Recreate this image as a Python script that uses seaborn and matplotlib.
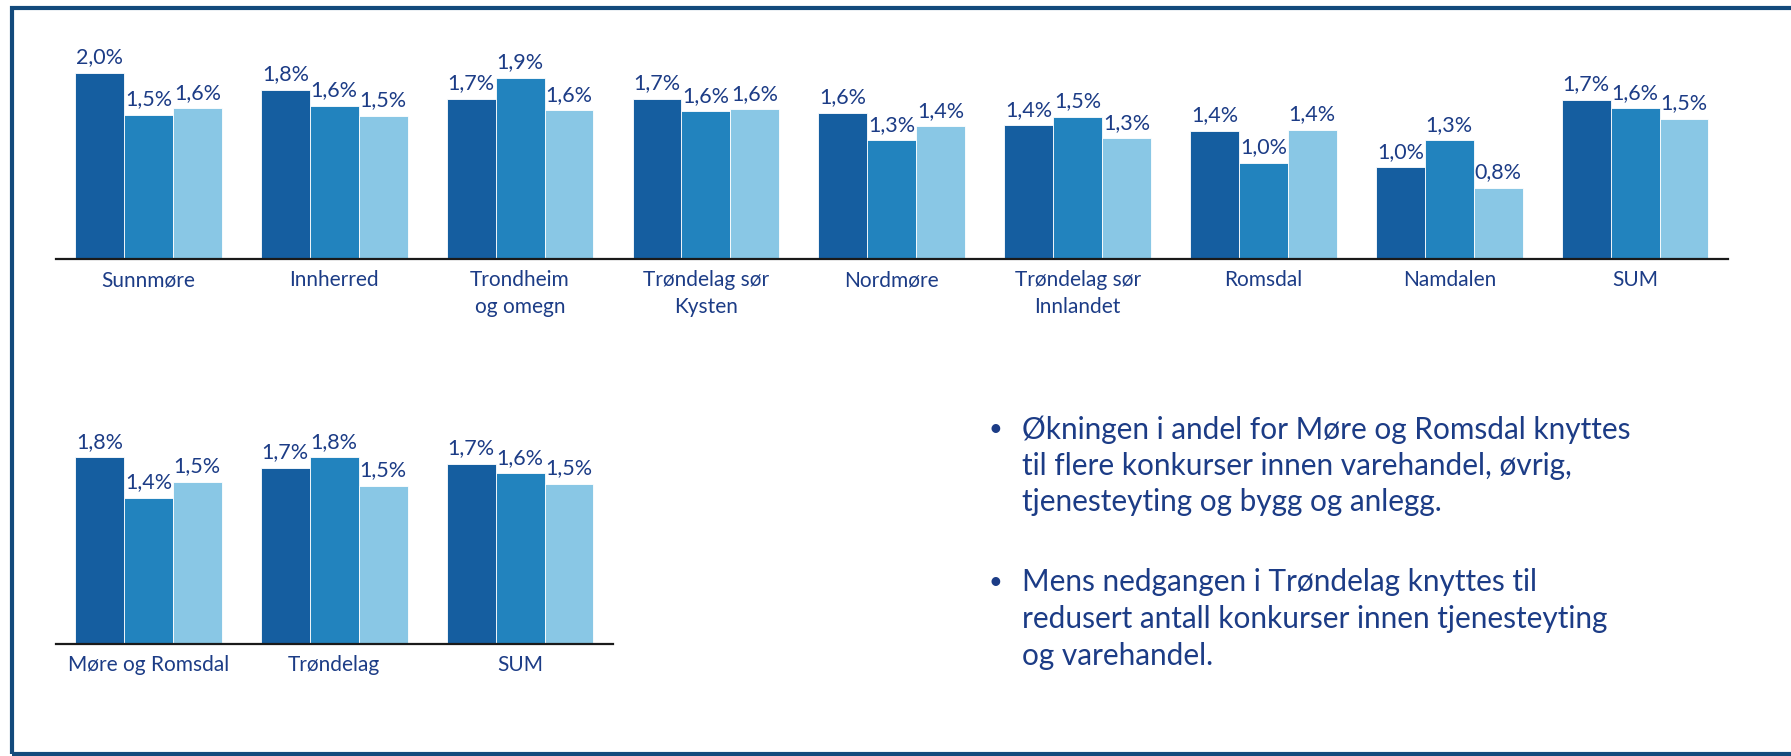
import pandas as pd
import seaborn as sns
import matplotlib.pyplot as plt
from matplotlib.patches import Rectangle

# andel konkurser per region, tre perioder (lest av figuren)
regions = ["Sunnmøre", "Innherred", "Trondheim\nog omegn", "Trøndelag sør\nKysten", "Nordmøre",
           "Trøndelag sør\nInnlandet", "Romsdal", "Namdalen", "SUM"]
reg_p1 = [1.99, 1.81, 1.71, 1.71, 1.56, 1.43, 1.37, 0.98, 1.70]
reg_p2 = [1.54, 1.64, 1.94, 1.58, 1.27, 1.52, 1.03, 1.27, 1.61]
reg_p3 = [1.61, 1.53, 1.59, 1.60, 1.42, 1.29, 1.38, 0.76, 1.50]

counties = ["Møre og Romsdal", "Trøndelag", "SUM"]
fyl_p1 = [1.76, 1.66, 1.70]
fyl_p2 = [1.38, 1.76, 1.61]
fyl_p3 = [1.53, 1.49, 1.51]

periods = ["p1", "p2", "p3"]
colors = ["#155ea0", "#2283be", "#89c7e5"]
text_col = "#1c3c86"

bullet1 = ["Økningen i andel for Møre og Romsdal knyttes",
           "til flere konkurser innen varehandel, øvrig,",
           "tjenesteyting og bygg og anlegg."]
bullet2 = ["Mens nedgangen i Trøndelag knyttes til",
           "redusert antall konkurser innen tjenesteyting",
           "og varehandel."]

W, H = 1791, 756


def long_df(cats, s1, s2, s3):
    rows = []
    for per, vals in zip(periods, [s1, s2, s3]):
        for c, v in zip(cats, vals):
            rows.append({"omr": c, "andel": v, "periode": per})
    return pd.DataFrame(rows)


def draw(ax, df, ymax):
    sns.barplot(data=df, x="omr", y="andel", hue="periode", hue_order=periods,
                palette=colors, saturation=1, width=0.79, gap=0, legend=False, ax=ax,
                edgecolor="white", linewidth=0.6, errorbar=None)
    for cont in ax.containers:
        labs = [f"{b.get_height():.1f}%".replace(".", ",") for b in cont]
        ax.bar_label(cont, labels=labs, padding=4, fontsize=15.5, color=text_col)
    ax.set_ylim(0, ymax)
    ax.set_xlabel("")
    ax.set_ylabel("")
    ax.set_yticks([])
    for s in ["top", "right", "left"]:
        ax.spines[s].set_visible(False)
    ax.spines["bottom"].set_color("#1a1a1a")
    ax.spines["bottom"].set_linewidth(1.6)
    ax.tick_params(axis="x", length=0, pad=8, labelsize=15, labelcolor=text_col)
    ax.set_facecolor("none")


sns.set_style("white")
plt.rcParams["font.family"] = ["Lato", "DejaVu Sans"]

fig = plt.figure(figsize=(W / 100, H / 100), dpi=100)

# øverste diagram: regioner
ax1 = fig.add_axes([55.5 / W, 1 - 259 / H, 1672.5 / W, 229 / H])
draw(ax1, long_df(regions, reg_p1, reg_p2, reg_p3), 229 / 93.5)
for t in ax1.get_xticklabels():
    t.set_linespacing(1.4)

# nederste diagram: fylker
ax2 = fig.add_axes([55.5 / W, 1 - 644 / H, 557.5 / W, 244 / H])
draw(ax2, long_df(counties, fyl_p1, fyl_p2, fyl_p3), 244 / 106)

# tekst til høyre
step = 36.5
for y0, lines in [(429.5, bullet1), (582.5, bullet2)]:
    fig.text(988 / W, 1 - y0 / H, "•", fontsize=17, color=text_col, va="center", ha="left")
    for i, line in enumerate(lines):
        fig.text(1022 / W, 1 - (y0 + i * step) / H, line, fontsize=21.4, color=text_col,
                 va="center", ha="left")

# ramme
fig.patches.append(Rectangle((11.5 / W, 1 - 754 / H), (1800 - 11.5) / W, (754 - 8) / H,
                             transform=fig.transFigure, fill=False,
                             edgecolor="#134a7c", linewidth=3))

fig.savefig("out.png", dpi=100)
